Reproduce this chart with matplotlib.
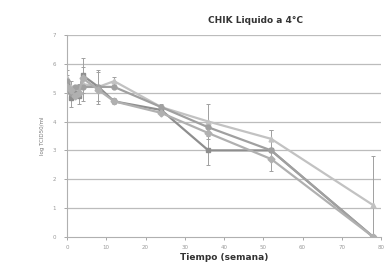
import matplotlib
matplotlib.use('Agg')
from matplotlib import pyplot as plt

semanas = [0, 1, 2, 3, 4, 8, 12, 24, 36, 52, 78]

# log TCID50/ml, four replicate series
s1 = [5.5, 5.2, 5.0, 5.1, 5.3, 5.2, 5.4, 4.5, 4.0, 3.4, 1.1]
s2 = [5.3, 4.8, 5.0, 4.9, 5.6, 5.2, 4.7, 4.4, 3.0, 3.0, 0.0]
s3 = [5.4, 5.0, 5.2, 5.2, 5.2, 5.2, 5.2, 4.5, 3.8, 3.0, 0.0]
s4 = [5.2, 5.1, 4.9, 5.0, 5.5, 5.1, 4.7, 4.3, 3.6, 2.7, 0.0]

err1 = [0.3, 0.2, 0.2, 0.2, 0.6, 0.5, 0.15, 0.1, 0.6, 0.3, 1.7]
err2 = [0.3, 0.3, 0.2, 0.3, 0.6, 0.6, 0.1, 0.1, 0.5, 0.7, 0.0]

series = [
    (s1, err1, '#c2c2c2', '^'),
    (s2, err2, '#8e8e8e', 's'),
    (s3, None, '#a0a0a0', 'o'),
    (s4, None, '#b0b0b0', 'D'),
]

fig = plt.figure(figsize=(3.85, 2.69), dpi=100)
ax = fig.add_axes([0.174, 0.119, 0.816, 0.751])

for y in range(1, 8):
    ax.axhline(y, color='#bcbcbc', lw=0.9, zorder=0)

for vals, err, color, mk in series:
    ax.plot(semanas, vals, '-', marker=mk, color=color, lw=1.6, ms=3.5, zorder=3)
    if err is not None:
        ax.errorbar(semanas, vals, yerr=err, fmt='none', ecolor='#a0a0a0',
                    elinewidth=0.7, capsize=1.5, capthick=0.7, zorder=2)

ax.set_xlim(0, 80)
ax.set_ylim(0, 7)
ax.set_xticks(range(0, 81, 10))
ax.set_yticks(range(0, 8))
ax.tick_params(labelsize=4, colors='#999999', length=2, width=0.6)
ax.tick_params(axis='y', pad=6)
ax.tick_params(axis='x', pad=4)
for s in ['top', 'right']:
    ax.spines[s].set_visible(False)
ax.spines['left'].set_color('#b0b0b0')
ax.spines['bottom'].set_color('#b0b0b0')

fig.text(0.663, 0.925, 'CHIK Liquido a 4°C', ha='center', va='center',
         fontsize=6.5, fontweight='bold', color='#333333')
ax.set_xlabel('Tiempo (semana)', fontsize=6.5, fontweight='bold',
              color='#333333', labelpad=2)
ax.set_ylabel('log TCID50/ml', fontsize=4, color='#777777', labelpad=5)

fig.savefig('out.png', dpi=100)
